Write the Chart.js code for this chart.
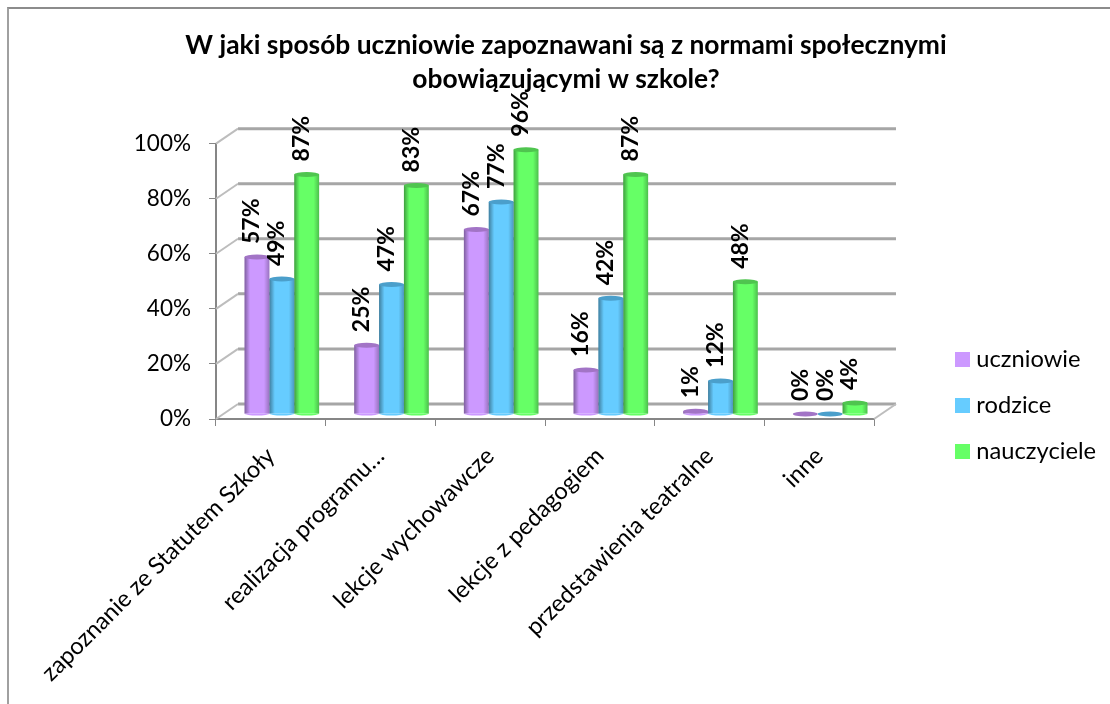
<!DOCTYPE html>
<html>
<head>
<meta charset="utf-8">
<script src="https://cdn.jsdelivr.net/npm/chart.js@4"></script>
<style>
  html, body { margin: 0; padding: 0; background: #fff; overflow: hidden; }
  #frame { position: absolute; left: 7px; top: 7px; right: 0; bottom: 0; border-top: 2px solid #8c8c8c; border-left: 2px solid #a0a0a0; }
  #c { position: absolute; left: 0; top: 0; }
</style>
</head>
<body>
<div id="frame"></div>
<canvas id="c" width="1110" height="704"></canvas>
<script>
const categories = ['zapoznanie ze Statutem Szkoły', 'realizacja programu…', 'lekcje wychowawcze', 'lekcje z pedagogiem', 'przedstawienia teatralne', 'inne'];
const uczniowie = [57, 25, 67, 16, 1, 0];
const rodzice = [49, 47, 77, 42, 12, 0];
const nauczyciele = [87, 83, 96, 87, 48, 4];
const titleLines = ['W jaki sposób uczniowie zapoznawani są z normami społecznymi', 'obowiązującymi w szkole?'];

const FONT = 'Lato';
const DEPTH_X = 22, DEPTH_Y = -15;   // back wall offset
const BAR_DX = 11, BAR_DY = -5;      // bars stand inside the 3d floor
const barColors = ['#cc99ff', '#66ccff', '#66ff66'];
const capColors = ['#a274c6', '#4b9fcb', '#4fc54f'];

// legend squares are wider than the slot chart.js leaves before the text
function swatch(color) {
  const c = document.createElement('canvas');
  c.width = 15; c.height = 15;
  const g = c.getContext('2d');
  g.fillStyle = color;
  g.fillRect(0, 0, 15, 15);
  return c;
}

// fake 3d: back wall, floor, cylinders and rotated value labels
const fake3d = {
  id: 'fake3d',
  afterLayout(chart) {
    // title sits off-centre, legend sits at a fixed spot
    const t = chart.titleBlock;
    t.left = 22; t.right = 1110;
    const l = chart.legend;
    l.left = 938; l.right = 1110; l.width = 172;
    l.top = 325; l.bottom = 500; l.height = 175;
  },
  beforeDatasetsDraw(chart) {
    const { ctx, scales: { x, y } } = chart;
    const left = x.left, right = x.right;
    ctx.save();
    y.ticks.forEach(t => {
      const py = y.getPixelForValue(t.value);
      ctx.strokeStyle = '#a6a6a6';
      ctx.lineWidth = 3;
      ctx.beginPath();
      ctx.moveTo(left + DEPTH_X, py + DEPTH_Y);
      ctx.lineTo(right + DEPTH_X, py + DEPTH_Y);
      ctx.stroke();
      ctx.strokeStyle = '#bdbdbd';
      ctx.lineWidth = 2;
      ctx.beginPath();
      ctx.moveTo(left, py);
      ctx.lineTo(left + DEPTH_X, py + DEPTH_Y);
      ctx.stroke();
    });
    const y0 = y.getPixelForValue(0);
    ctx.beginPath();
    ctx.moveTo(right, y0);
    ctx.lineTo(right + DEPTH_X, y0 + DEPTH_Y);
    ctx.stroke();
    ctx.restore();
    ctx.save();
    ctx.translate(BAR_DX, BAR_DY);
  },
  afterDatasetsDraw(chart) {
    const { ctx } = chart;
    chart.data.datasets.forEach((ds, i) => {
      chart.getDatasetMeta(i).data.forEach(el => {
        const x0 = el.x - el.width / 2, w = el.width, h = el.base - el.y;
        if (h > 1) {
          // rounded foot of the cylinder
          ctx.fillStyle = barColors[i];
          ctx.beginPath();
          ctx.ellipse(el.x, el.base, w / 2, 2, 0, 0, Math.PI);
          ctx.fill();
        }
        const g = ctx.createLinearGradient(x0, 0, x0 + w, 0);
        g.addColorStop(0, 'rgba(0,0,0,0.38)');
        g.addColorStop(0.22, 'rgba(0,0,0,0)');
        g.addColorStop(0.78, 'rgba(0,0,0,0)');
        g.addColorStop(1, 'rgba(0,0,0,0.25)');
        ctx.fillStyle = g;
        ctx.fillRect(x0, el.y, w, h);
        ctx.fillStyle = capColors[i];
        ctx.beginPath();
        ctx.ellipse(el.x, el.y, w / 2, 2.5, 0, 0, Math.PI * 2);
        ctx.fill();
      });
    });
    ctx.restore();
    // value labels
    chart.data.datasets.forEach((ds, i) => {
      chart.getDatasetMeta(i).data.forEach((el, j) => {
        ctx.save();
        ctx.translate(el.x + BAR_DX - 5, el.y + BAR_DY - 13);
        ctx.rotate(-Math.PI / 2);
        ctx.font = 'bold 23px ' + FONT;
        ctx.fillStyle = '#000';
        ctx.textAlign = 'left';
        ctx.textBaseline = 'middle';
        ctx.fillText(ds.data[j] + '%', 0, 0);
        ctx.restore();
      });
    });
  }
};

new Chart(document.getElementById('c'), {
  type: 'bar',
  data: {
    labels: categories,
    datasets: [
      { label: 'uczniowie', data: uczniowie, backgroundColor: barColors[0] },
      { label: 'rodzice', data: rodzice, backgroundColor: barColors[1] },
      { label: 'nauczyciele', data: nauczyciele, backgroundColor: barColors[2] }
    ]
  },
  options: {
    responsive: false,
    animation: false,
    layout: { autoPadding: false, padding: { left: 0, right: 236, top: 0, bottom: 0 } },
    datasets: { bar: { categoryPercentage: 0.68, barPercentage: 1, clip: false } },
    plugins: {
      tooltip: { enabled: false },
      title: {
        display: true,
        text: titleLines,
        color: '#000',
        font: { family: FONT, size: 26.4, weight: 'bold', lineHeight: 1.3 },
        padding: { top: 28, bottom: 47 }
      },
      legend: {
        position: 'chartArea',
        align: 'start',
        labels: {
          color: '#000',
          usePointStyle: true,
          pointStyleWidth: 4,
          boxHeight: 15,
          padding: 22.5,
          font: { family: FONT, size: 23.7 },
          generateLabels(chart) {
            return Chart.defaults.plugins.legend.labels.generateLabels(chart)
              .map((it, i) => ({ ...it, pointStyle: swatch(barColors[i]) }));
          }
        }
      }
    },
    scales: {
      x: {
        afterFit(s) { s.height = 285; },
        border: { color: '#868686', width: 2 },
        grid: { drawOnChartArea: false, color: '#868686', tickLength: 7 },
        ticks: { color: '#000', font: { family: FONT, size: 23.6 }, minRotation: 45, maxRotation: 45, autoSkip: false, padding: 16 }
      },
      y: {
        min: 0,
        max: 100,
        afterFit(s) { s.width = 216; },
        border: { color: '#868686', width: 2 },
        grid: { drawOnChartArea: false, color: '#868686', tickLength: 7 },
        ticks: { color: '#000', stepSize: 20, padding: 18, font: { family: FONT, size: 22.5 }, callback: v => v + '%' }
      }
    }
  },
  plugins: [fake3d]
});
</script>
</body>
</html>
